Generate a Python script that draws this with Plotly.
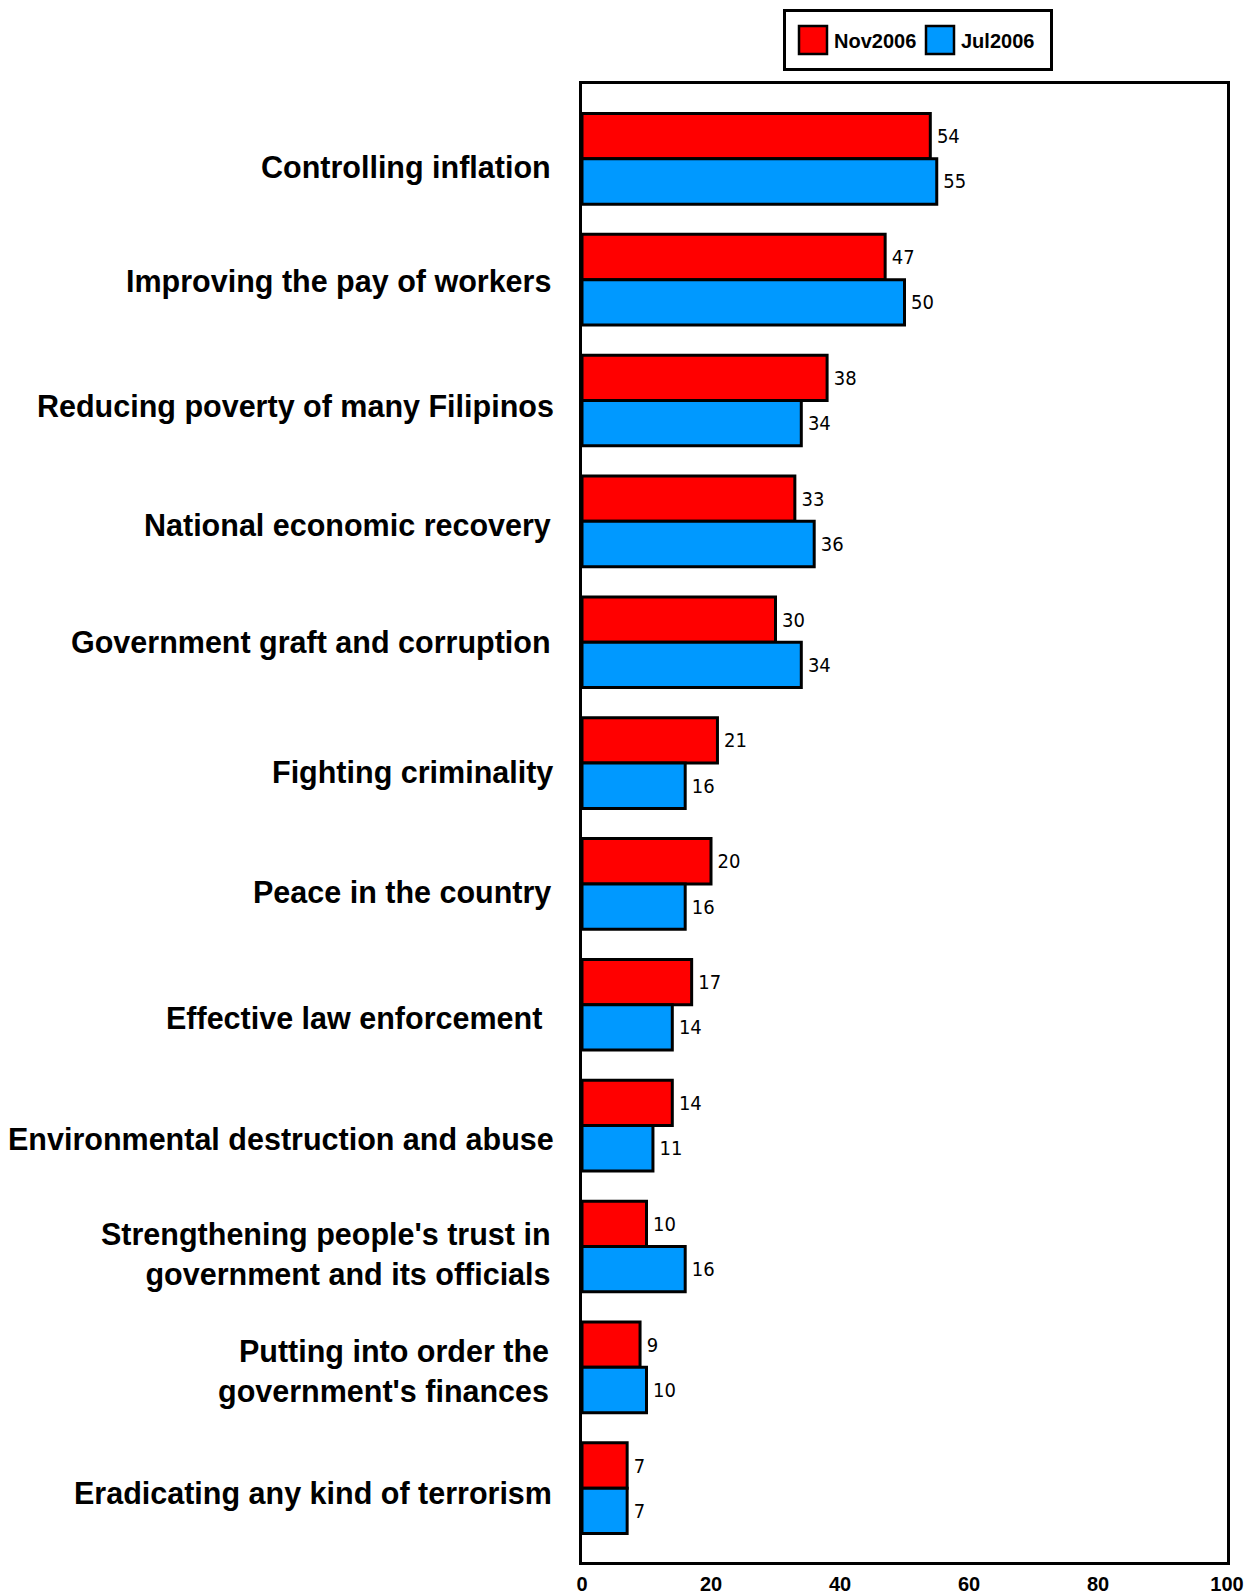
import plotly.graph_objects as go

categories = [
    "Controlling inflation",
    "Improving the pay of workers",
    "Reducing poverty of many Filipinos",
    "National economic recovery",
    "Government graft and corruption",
    "Fighting criminality",
    "Peace in the country",
    "Effective law enforcement ",
    "Environmental destruction and abuse",
    "Strengthening people's trust in<br>government and its officials",
    "Putting into order the<br>government's finances",
    "Eradicating any kind of terrorism",
]
series_names = ["Nov2006", "Jul2006"]
nov2006 = [54, 47, 38, 33, 30, 21, 20, 17, 14, 10, 9, 7]
jul2006 = [55, 50, 34, 36, 34, 16, 16, 14, 11, 16, 10, 7]
x_ticks = [0, 20, 40, 60, 80, 100]

# layout-only: small hand-placement offsets of the category labels (pixels down / left)
label_dy = [9, 2, 6, 4, 0, 9, 9, 13, 13, 8, 4, 5]
label_dx = [29, 29, 26, 29, 29, 27, 29, 29, 26, 29, 31, 28]

BOLD = "Liberation Sans, Arial, sans-serif"
NARROW = "Liberation Sans Narrow, Arial Narrow, DejaVu Sans Condensed, sans-serif"
COLORS = ["#FF0000", "#0099FF"]

W, H = 1252, 1596
ML, MR, MT, MB = 582, 25, 84, 34
PW, PH = W - ML - MR, H - MT - MB


def px(x):
    return (x - ML) / PW


def py(y):
    return (H - MB - y) / PH


fig = go.Figure()
for name, vals, color in zip(series_names, [nov2006, jul2006], COLORS):
    fig.add_trace(go.Bar(
        name=name, y=categories, x=vals, orientation="h",
        marker=dict(color=color, line=dict(color="black", width=3)),
        text=vals, texttemplate="\u2009%{x}", textposition="outside",
        textfont=dict(family=NARROW, size=20, color="black"),
        cliponaxis=False, constraintext="none", showlegend=False,
    ))

# legend box drawn as layout shapes/annotations (larger swatches, as in the original)
shapes = [dict(type="rect", xref="paper", yref="paper",
               x0=px(784.5), x1=px(1051.5), y0=py(69.5), y1=py(10.5),
               line=dict(color="black", width=3), fillcolor="white", layer="above")]
annotations = []
for name, color, sx in zip(series_names, COLORS, [798, 925]):
    shapes.append(dict(type="rect", xref="paper", yref="paper",
                       x0=px(sx + 1), x1=px(sx + 29), y0=py(54), y1=py(26),
                       line=dict(color="black", width=2.5), fillcolor=color, layer="above"))
    annotations.append(dict(text="<b>%s</b>" % name, xref="paper", yref="paper",
                            x=px(sx + 34), y=py(41), xanchor="left", yanchor="middle",
                            showarrow=False,
                            font=dict(family=BOLD, size=20, color="black")))

# category labels (as the axis tick labels, placed by hand like the original)
for cat, dy, dx in zip(categories, label_dy, label_dx):
    annotations.append(dict(text="<b>%s</b>" % cat, xref="paper", yref="y",
                            x=0, y=cat, xanchor="right", yanchor="middle",
                            xshift=-dx, yshift=-dy, align="right", showarrow=False,
                            font=dict(family=BOLD, size=30.5, color="black")))

fig.update_layout(
    width=W, height=H, autosize=False, template="none",
    margin=dict(l=ML, r=MR, t=MT, b=MB, autoexpand=False),
    barmode="group", bargap=0.25, bargroupgap=0,
    plot_bgcolor="white", paper_bgcolor="white",
    font=dict(family=BOLD, color="black"),
    showlegend=False,
    shapes=shapes, annotations=annotations,
)
fig.update_xaxes(
    range=[0, 100], tickvals=x_ticks, ticks="", showgrid=False, zeroline=False,
    showline=True, mirror=True, linecolor="black", linewidth=3, automargin=False,
    tickfont=dict(family=BOLD, size=20, color="black", weight="bold"),
    ticklabelstandoff=2,
)
fig.update_yaxes(
    type="category", categoryorder="array", categoryarray=categories,
    range=[11.611, -0.619], ticks="", showgrid=False, zeroline=False,
    showline=True, mirror=True, linecolor="black", linewidth=3, automargin=False,
    showticklabels=False,
)

fig.write_html("out.html", config={"displayModeBar": False},
               post_script="document.body.style.margin='0';")
